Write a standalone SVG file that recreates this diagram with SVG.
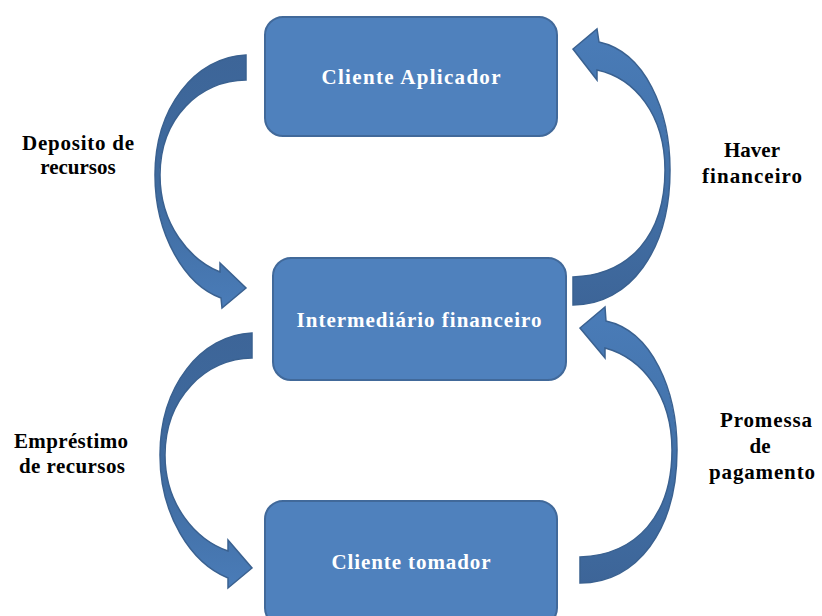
<svg xmlns="http://www.w3.org/2000/svg" width="822" height="616" viewBox="0 0 822 616">
<style>
.box{fill:#4F81BD;stroke:#41699A;stroke-width:2}
.bt{font-family:"Liberation Serif","Times New Roman",serif;font-weight:bold;font-size:21px;fill:#FFFFFF;text-anchor:middle}
.lb{font-family:"Liberation Serif","Times New Roman",serif;font-weight:bold;font-size:21px;fill:#000000;text-anchor:middle}
.arL{fill:url(#gL);stroke:#3A6190;stroke-width:1.5}
.arR{fill:url(#gR);stroke:#3A6190;stroke-width:1.5}
</style>
<defs>
<linearGradient id="gL" x1="0" y1="0" x2="0" y2="1">
<stop offset="0" stop-color="#3D6598"/>
<stop offset="0.55" stop-color="#3F6B9F"/>
<stop offset="1" stop-color="#4A7CB8"/>
</linearGradient>
<linearGradient id="gR" x1="0" y1="0" x2="0" y2="1">
<stop offset="0" stop-color="#4A7CB8"/>
<stop offset="0.45" stop-color="#4373AB"/>
<stop offset="1" stop-color="#3D6598"/>
</linearGradient>
</defs>
<rect width="822" height="616" fill="#FFFFFF"/>
<g id="connectors">
<path class="arL" d="M246,55 C195,57 155,108 155,175 C155,235 185,285 221,298 L222,308 L246,288 L220,263 L220,272 C190,260 160,225 160,175 C160,118 200,80 246,80 Z"/>
<path class="arL" d="M252,333 C201,335 160,386 160,455 C160,515 191,563 228,578 L228,588 L252,568 L228,540 L228,551 C196,540 165,505 165,455 C165,398 206,358 252,358 Z"/>
<path class="arR" d="M573,277 C630,275 665,235 665,170 C665,115 635,78 597,70 L597,80 L573,49 L597,29 L599,42 C645,52 670,110 670,170 C670,250 630,305 573,305 Z"/>
<path class="arR" d="M580,557 C637,555 672,515 672,450 C672,395 642,358 605,348 L605,358 L580,328 L605,307 L606,321 C652,331 677,390 677,450 C677,530 637,583 580,583 Z"/>
</g>
<g id="node-aplicador">
<rect class="box" x="265" y="17" width="292" height="119" rx="18"/>
<text class="bt" x="411" y="84" textLength="179" lengthAdjust="spacing">Cliente  Aplicador</text>
</g>
<g id="node-intermediario">
<rect class="box" x="273" y="258" width="293" height="122" rx="18"/>
<text class="bt" x="419" y="327" textLength="245" lengthAdjust="spacing">Intermediário financeiro</text>
</g>
<g id="node-tomador">
<rect class="box" x="265" y="501" width="292" height="125" rx="18"/>
<text class="bt" x="411" y="569" textLength="159" lengthAdjust="spacing">Cliente tomador</text>
</g>
<g id="label-deposito">
<text class="lb" x="78" y="150" textLength="112" lengthAdjust="spacing">Deposito de</text>
<text class="lb" x="78" y="174">recursos</text>
</g>
<g id="label-haver">
<text class="lb" x="752" y="157">Haver</text>
<text class="lb" x="752" y="183" textLength="100" lengthAdjust="spacing">financeiro</text>
</g>
<g id="label-emprestimo">
<text class="lb" x="71" y="448" textLength="114" lengthAdjust="spacing">Empréstimo</text>
<text class="lb" x="72" y="473" textLength="106" lengthAdjust="spacing">de recursos</text>
</g>
<g id="label-promessa">
<text class="lb" x="766" y="427" textLength="92" lengthAdjust="spacing">Promessa</text>
<text class="lb" x="760" y="453">de</text>
<text class="lb" x="762" y="479" textLength="106" lengthAdjust="spacing">pagamento</text>
</g>
</svg>
